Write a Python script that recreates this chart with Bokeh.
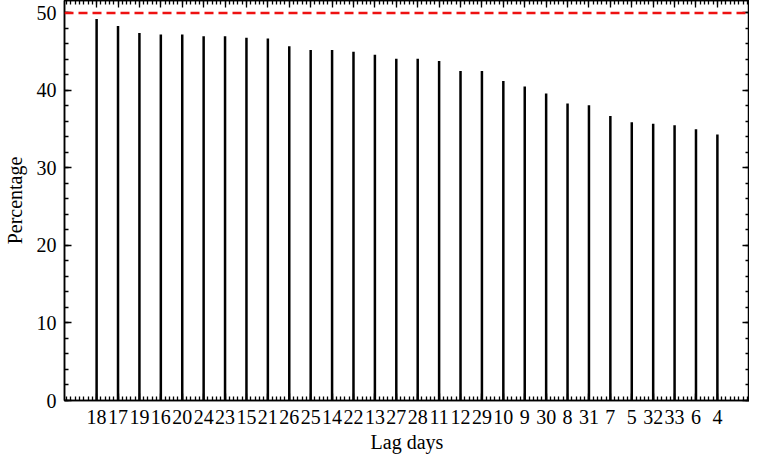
from bokeh.plotting import figure
from bokeh.models import FixedTicker, LinearAxis, Span, Range1d, ColumnDataSource
from bokeh.embed import file_html
from bokeh.resources import INLINE

lag_days = ["18", "17", "19", "16", "20", "24", "23", "15", "21", "26", "25", "14", "22", "13", "27",
            "28", "11", "12", "29", "10", "9", "30", "8", "31", "7", "5", "32", "33", "6", "4"]
percentage = [49.2, 48.3, 47.4, 47.2, 47.2, 47.0, 47.0, 46.8, 46.7, 45.7, 45.2, 45.2, 45.0, 44.6, 44.1,
              44.1, 43.8, 42.5, 42.5, 41.2, 40.5, 39.6, 38.3, 38.1, 36.7, 35.9, 35.7, 35.5, 35.0, 34.3]
threshold = 50
y_ticks = [0, 10, 20, 30, 40, 50]

FONT = "Liberation Serif"
n = len(lag_days)
xs = list(range(n))

src = ColumnDataSource(dict(x=xs, y0=[0] * n, y=percentage))

p = figure(width=749, height=455, output_backend="svg", toolbar_location=None,
           x_range=Range1d(-1.5, n + 0.5), y_range=Range1d(0, 51.6),
           min_border_left=0, min_border_right=0, min_border_top=0, min_border_bottom=0)
p.xgrid.visible = False
p.ygrid.visible = False
p.outline_line_color = "black"
p.outline_line_width = 1.5
p.background_fill_color = "white"
p.border_fill_color = "white"

p.segment(x0="x", y0="y0", x1="x", y1="y", source=src, line_color="black", line_width=2.5)
p.add_layout(Span(location=threshold, dimension="width", line_color="#ee1111",
                  line_dash="9 5", line_width=2.5))

x_minor = [round(i + k * 0.2, 3) for i in range(-2, n + 1) for k in range(0, 5)]
y_minor = [float(v) for v in range(0, 52, 2)]
xt = FixedTicker(ticks=xs, minor_ticks=x_minor)
yt = FixedTicker(ticks=y_ticks, minor_ticks=y_minor)


def style(ax, labels=True):
    ax.axis_line_color = "black"
    ax.axis_line_width = 1.5
    ax.major_tick_line_color = "black"
    ax.minor_tick_line_color = "black"
    ax.major_tick_line_width = 1.3
    ax.minor_tick_line_width = 1.3
    ax.major_tick_in = 7
    ax.major_tick_out = 0
    ax.minor_tick_in = 4
    ax.minor_tick_out = 0
    ax.major_label_text_font = FONT
    ax.major_label_text_color = "black"
    ax.major_label_text_line_height = 0.9
    ax.axis_label_text_font = FONT
    ax.axis_label_text_font_style = "normal"
    ax.axis_label_text_color = "black"
    ax.axis_label_text_font_size = "20px"
    ax.axis_label_text_line_height = 0.9
    if labels:
        ax.major_label_text_font_size = "20px"
    else:
        ax.major_label_text_font_size = "0px"
        ax.major_label_standoff = 0


xa = p.xaxis[0]
xa.ticker = xt
xa.major_label_overrides = {i: s for i, s in enumerate(lag_days)}
xa.axis_label = "Lag days"
style(xa)
xa.major_label_standoff = 9
xa.axis_label_standoff = 4

ya = p.yaxis[0]
ya.ticker = yt
ya.axis_label = "Percentage"
style(ya)
ya.major_label_standoff = 8
ya.axis_label_standoff = 8

top = LinearAxis(ticker=xt)
style(top, labels=False)
top.major_label_overrides = {i: "" for i in xs}
p.add_layout(top, "above")
right = LinearAxis(ticker=yt)
style(right, labels=False)
right.major_label_overrides = {v: "" for v in y_ticks}
p.add_layout(right, "right")

open("out.html", "w").write(file_html(p, INLINE))
